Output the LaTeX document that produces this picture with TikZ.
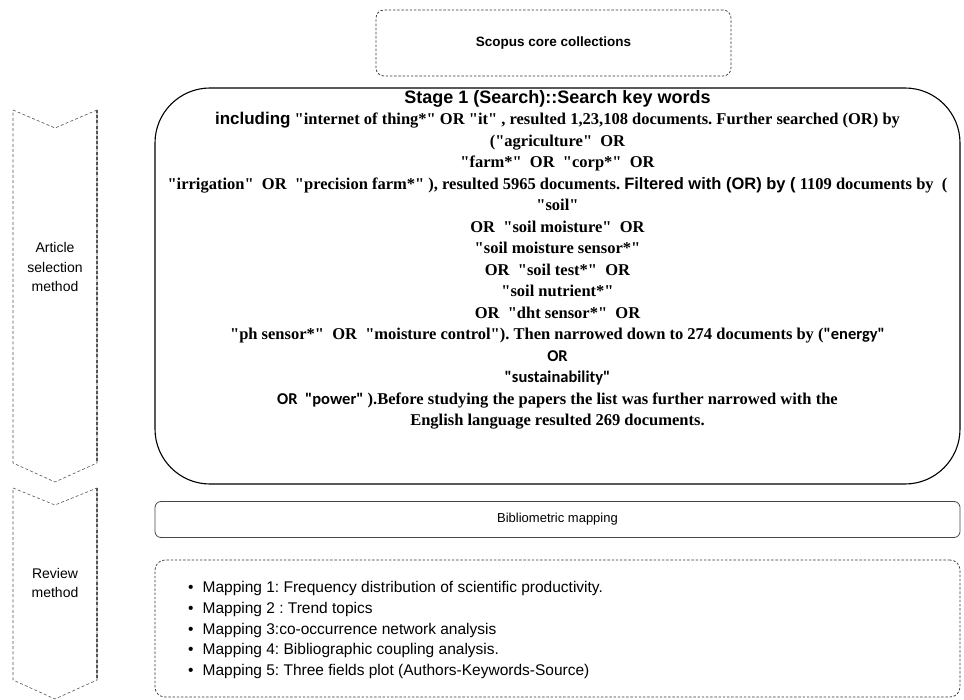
\documentclass[tikz,border=0pt]{standalone}
\usepackage{fontspec}
\newfontfamily\timesfont{Liberation Serif}
\newfontfamily\arialfont{Liberation Sans}
\newfontfamily\calibrifont{Carlito}
\usepackage{tikz}
\usetikzlibrary{positioning}
\definecolor{dashgray}{RGB}{55, 55, 55}
\definecolor{edgegray}{RGB}{85, 85, 85}
\definecolor{boxgray}{RGB}{70, 70, 70}
\newcommand{\arialbf}[2][16.5]{{\arialfont\bfseries\fontsize{#1}{21.5}\selectfont #2}}
\newcommand{\calbf}[1]{{\calibrifont\bfseries\fontsize{16.5}{21.5}\selectfont #1}}

\tikzset{
  dashbox/.style={draw=dashgray, dash pattern=on 2.4pt off 1.8pt, line width=0.75pt},
  chevline/.style={draw=edgegray, dash pattern=on 3pt off 2.2pt, line width=0.6pt},
  chevtext/.style={align=center, inner sep=0pt, font=\arialfont\fontsize{14}{19.5}\selectfont},
  bigbox/.style={draw=black, line width=1.1pt, rounded corners=55pt},
}

\begin{document}
\frenchspacing
\begin{tikzpicture}[x=1pt, y=-1pt]
  \useasboundingbox (0,0) rectangle (964,700);

  % Source
  \node[dashbox, rounded corners=8pt, minimum width=355pt, minimum height=66pt,
        font=\arialfont\bfseries\fontsize{13.5}{16}\selectfont] (scopus) at (553.5, 43) {Scopus core collections};

  % Left chevrons
  % Article selection
  \draw[chevline] (13,110) -- (55,128) -- (97,110) -- (97,463) -- (55,482) -- (13,463) -- cycle;
  \draw[chevline, line width=1.2pt] (97,110) -- (97,463);
  \node[chevtext] (selmethod) at (55, 267) {Article\\selection\\method};

  % Review
  \draw[chevline] (13,488) -- (55,505) -- (97,488) -- (97,680) -- (55,699) -- (13,680) -- cycle;
  \draw[chevline, line width=1.2pt] (97,488) -- (97,680);
  \node[chevtext] (revmethod) at (55, 583) {Review\\method};

  % Stage 1 search
  \node[bigbox, minimum width=805pt, minimum height=396pt] (search) at (557.5, 286) {};
  \node[anchor=north, align=center, inner sep=0pt, font=\timesfont\bfseries\fontsize{16.5}{21.5}\selectfont] (searchtxt) at (557.5, 90) {
    \arialbf[18]{Stage 1 (Search)::Search key words}\\
    \arialbf[17]{including} "internet of thing*" OR "it" , resulted 1,23,108 documents. Further searched (OR) by\\
    ("agriculture"~ OR\\
    "farm*"~ OR~ "corp*"~ OR\\
    "irrigation"~ OR~ "precision farm*" ), resulted 5965 documents. \arialbf{Filtered with (OR) by (} 1109 documents by~ (\\
    "soil"\\
    OR~ "soil moisture"~ OR\\
    "soil moisture sensor*"\\
    OR~ "soil test*"~ OR\\
    "soil nutrient*"\\
    OR~ "dht sensor*"~ OR\\
    "ph sensor*"~ OR~ "moisture control"). Then narrowed down to 274 documents by (\calbf{"energy"}\\
    \calbf{OR}\\
    \calbf{"sustainability"}\\
    \calbf{OR~ "power"} ).Before studying the papers the list was further narrowed with the\\
    English language resulted 269 documents.
  };

  % Mapping
  \node[draw=boxgray, line width=0.8pt, rounded corners=6pt, minimum width=805pt, minimum height=36pt,
        font=\arialfont\fontsize{13}{15}\selectfont] (biblio) at (557.5, 519.5) {Bibliometric mapping};

  % Review steps
  \node[dashbox, rounded corners=10pt, minimum width=805pt, minimum height=137pt] (mapbox) at (557.5, 628.5) {};
  \node[anchor=north west, align=left, inner sep=0pt, font=\arialfont\fontsize{15.5}{20.8}\selectfont] (maplist) at (188, 581) {
    \textbullet\hspace{9pt}Mapping 1: Frequency distribution of scientific productivity.\\
    \textbullet\hspace{9pt}Mapping 2 : Trend topics\\
    \textbullet\hspace{9pt}Mapping 3:co-occurrence network analysis\\
    \textbullet\hspace{9pt}Mapping 4: Bibliographic coupling analysis.\\
    \textbullet\hspace{9pt}Mapping 5: Three fields plot (Authors-Keywords-Source)
  };
\end{tikzpicture}
\end{document}
